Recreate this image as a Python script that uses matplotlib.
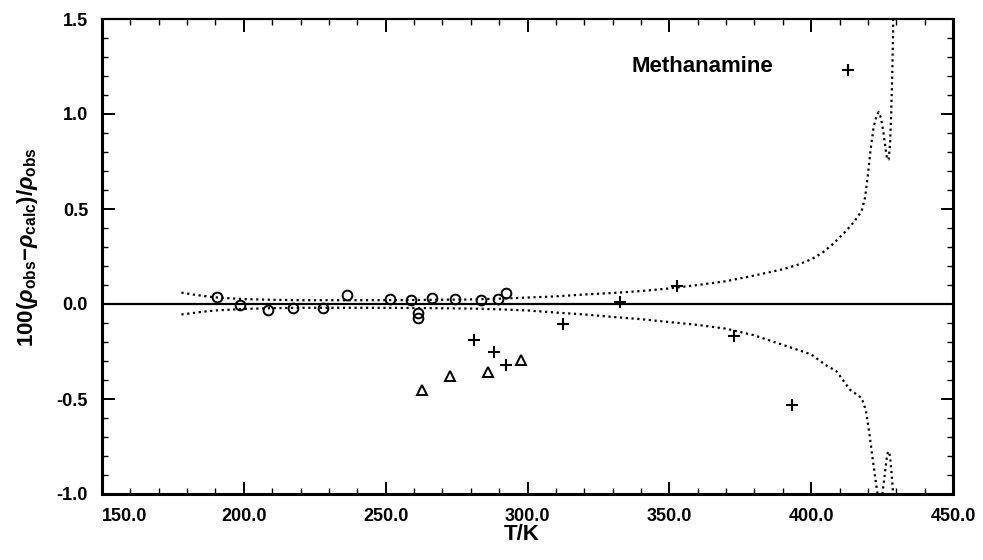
import matplotlib
matplotlib.use("Agg")
import matplotlib.pyplot as plt

# --- DATA ---
circle_T = [190.4, 198.6, 208.6, 217.2, 228.0, 236.2, 251.5, 258.8, 261.5, 261.5,
            266.2, 274.4, 283.5, 289.7, 292.3]
circle_dev = [0.035, -0.003, -0.03, -0.02, -0.02, 0.045, 0.025, 0.02, -0.045, -0.075,
              0.033, 0.026, 0.02, 0.026, 0.06]

tri_T = [262.7, 272.7, 286.2, 297.6]
tri_dev = [-0.45, -0.38, -0.36, -0.295]

plus_T = [281.1, 288.2, 292.4, 312.4, 332.7, 352.8, 372.9, 393.3, 413.0]
plus_dev = [-0.19, -0.255, -0.32, -0.105, 0.013, 0.096, -0.17, -0.53, 1.23]

# upper / lower uncertainty bands (dotted)
upper_T = [178, 182, 186, 190, 195, 200, 210, 220, 240, 260,
           280, 290, 300, 310, 320, 330, 340, 350, 360, 370,
           380, 390, 395, 400, 404, 408, 412, 415, 417.8, 419,
           420, 421, 422, 423, 423.8, 424.6, 425.4, 426.2, 426.8, 427.3,
           427.8, 428.2, 428.5, 428.7, 428.9, 429.0]
upper_dev = [0.06, 0.05, 0.042, 0.035, 0.03, 0.026, 0.022, 0.02, 0.02, 0.021,
             0.024, 0.028, 0.034, 0.04, 0.05, 0.058, 0.068, 0.082, 0.1, 0.12,
             0.15, 0.183, 0.205, 0.235, 0.27, 0.32, 0.38, 0.43, 0.49, 0.56,
             0.68, 0.82, 0.93, 0.99, 1.01, 0.98, 0.91, 0.82, 0.76, 0.76,
             0.84, 1.0, 1.15, 1.3, 1.45, 1.6]

lower_T = [178, 182, 186, 190, 195, 200, 210, 220, 240, 260,
           280, 290, 300, 310, 320, 330, 340, 350, 360, 370,
           380, 390, 395, 400, 405, 409, 413.6, 417.8, 419.3, 420.5,
           421.9, 423.3, 424.0, 424.6, 425.2, 426.0, 426.8, 427.3, 427.8, 428.4,
           428.9, 429.3]
lower_dev = [-0.055, -0.048, -0.04, -0.034, -0.03, -0.026, -0.022, -0.02, -0.02, -0.021,
             -0.024, -0.028, -0.034, -0.045, -0.055, -0.068, -0.08, -0.095, -0.11, -0.13,
             -0.165, -0.215, -0.24, -0.265, -0.32, -0.355, -0.45, -0.495, -0.56, -0.68,
             -0.84, -0.99, -1.08, -1.08, -0.99, -0.89, -0.79, -0.775, -0.80, -0.90,
             -1.0, -1.1]

x_ticks = [150, 200, 250, 300, 350, 400, 450]
x_labels = ["150.0", "200.0", "250.0", "300.0", "350.0", "400.0", "450.0"]
y_ticks = [-1.0, -0.5, 0.0, 0.5, 1.0, 1.5]
y_labels = ["-1.0", "-0.5", "0.0", "0.5", "1.0", "1.5"]

# --- STYLE ---
plt.rcParams['font.family'] = ['Liberation Sans', 'DejaVu Sans']
plt.rcParams['font.weight'] = 'bold'
plt.rcParams['mathtext.fontset'] = 'custom'
plt.rcParams['mathtext.rm'] = 'Liberation Sans:bold'
plt.rcParams['mathtext.bf'] = 'Liberation Sans:bold'
plt.rcParams['mathtext.it'] = 'Liberation Sans:italic:bold'

fig = plt.figure(figsize=(9.83, 5.6), dpi=100)
ax = fig.add_axes([102/983, 1 - 494/560, 851/983, 475/560])

dot = (0, (1, 1.6))
ax.plot(upper_T, upper_dev, color='black', lw=1.6, linestyle=dot)
ax.plot(lower_T, lower_dev, color='black', lw=1.6, linestyle=dot)
ax.axhline(0, color='black', lw=1.6)

ax.plot(circle_T, circle_dev, 'o', ms=7, mfc='none', mec='black', mew=1.4)
ax.plot(tri_T, tri_dev, '^', ms=7, mfc='none', mec='black', mew=1.4)
ax.plot(plus_T, plus_dev, '+', ms=8, mec='black', mew=1.5)

ax.text(336.7, 1.25, "Methanamine", fontsize=16, fontweight='bold', ha='left', va='center')

ax.set_xlim(150, 450)
ax.set_ylim(-1.0, 1.5)
ax.set_xticks(x_ticks, x_labels)
ax.set_yticks(y_ticks, y_labels)
ax.set_xticks(range(150, 451, 10), minor=True)
ax.set_yticks([v / 10 for v in range(-10, 16)], minor=True)
ax.tick_params(which='both', direction='in', top=True, right=True, labelsize=13)
ax.tick_params(which='major', length=9, width=1.4, pad=10)
ax.tick_params(which='minor', length=4, width=1.0)
ax.get_xticklabels()[0].set_horizontalalignment('left')

for side in ['left', 'right', 'bottom']:
    ax.spines[side].set_linewidth(2.2)
ax.spines['top'].set_linewidth(1.6)

fig.text(28/983, 1 - 247/560,
         r'100($\mathit{\rho}_{\mathrm{obs}}$$-$$\mathit{\rho}_{\mathrm{calc}}$)/$\mathit{\rho}_{\mathrm{obs}}$',
         rotation=90, ha='center', va='center', fontsize=16, fontweight='bold')
fig.text(522/983, 1 - 535/560, "T/K", ha='center', va='center', fontsize=16, fontweight='bold')

plt.savefig("out.png", dpi=100)
